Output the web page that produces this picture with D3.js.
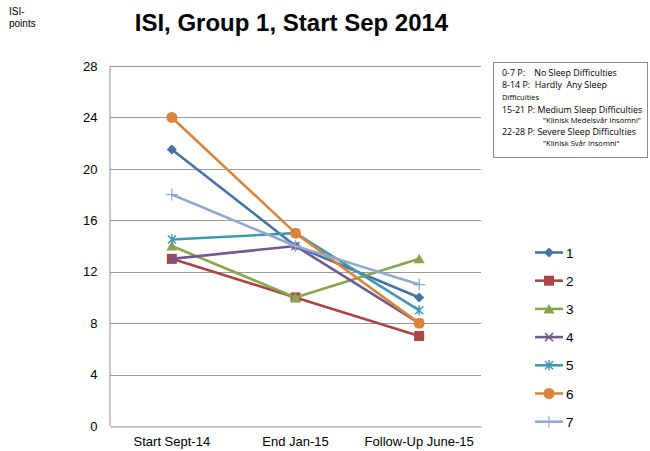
<!DOCTYPE html>
<html>
<head>
<meta charset="utf-8">
<script src="https://cdn.jsdelivr.net/npm/d3@7"></script>
<style>
  body { margin: 0; background: #fff; }
  text { font-family: Arial, "Liberation Sans", sans-serif; }
</style>
</head>
<body>
<script>
// categories and series
let categories = ['Start Sept-14', 'End Jan-15', 'Follow-Up June-15']
let seriesNames = ['1', '2', '3', '4', '5', '6', '7']
let s1 = [21.5, 14, 10]
let s2 = [13, 10, 7]
let s3 = [14, 10, 13]
let s4 = [13, 14, 8]
let s5 = [14.5, 15, 9]
let s6 = [24, 15, 8]
let s7 = [18, 14, 11]
let yTicks = [0, 4, 8, 12, 16, 20, 24, 28]
let noteLines = [
  { text: '0-7 P:    No Sleep Difficulties', small: false, indent: false },
  { text: '8-14 P:  Hardly  Any Sleep', small: false, indent: false },
  { text: 'Difficulties', small: true, indent: false },
  { text: '15-21 P: Medium Sleep Difficulties', small: false, indent: false },
  { text: '"Klinisk Medelsvår Insomni"', small: true, indent: true },
  { text: '22-28 P: Severe Sleep Difficulties', small: false, indent: false },
  { text: '"Klinisk Svår Insomni"', small: true, indent: true }
]

let allSeries = [s1, s2, s3, s4, s5, s6, s7]
let colors = ['#4572A7', '#AA4643', '#89A54E', '#71588F', '#4198AF', '#DB843D', '#93A9CF']
let shapes = ['diamond', 'square', 'triangle', 'x', 'star', 'circle', 'plus']

// measurements
let m = {
  width: 650,
  height: 451,
  left: 110,
  right: 481,
  top: 66,
  bottom: 426,
}

let svg = d3.select('body')
  .append('svg')
  .attr('width', m.width)
  .attr('height', m.height)

let xScale = d3.scaleBand()
  .domain(categories)
  .range([m.left, m.right])

let yScale = d3.scaleLinear()
  .domain([0, 28])
  .range([m.bottom, m.top])

// gridlines
svg.append('g')
  .selectAll('line')
  .data(yTicks.filter(function(d) { return d > 0 }))
  .enter()
  .append('line')
    .attr('x1', m.left)
    .attr('x2', m.right)
    .attr('y1', function(d) { return Math.round(yScale(d)) + 0.5 })
    .attr('y2', function(d) { return Math.round(yScale(d)) + 0.5 })
    .attr('stroke', '#9a9a9a')
    .attr('stroke-width', 1)

// axes
let yAxis = d3.axisLeft(yScale).tickValues(yTicks).tickSize(0).tickPadding(12)
let gy = svg.append('g')
  .attr('transform', 'translate(' + (m.left - 0.5) + ',0)')
  .call(yAxis)
gy.select('.domain').attr('stroke', '#8c8c8c')
gy.selectAll('text').attr('font-size', 13).attr('fill', '#000')

let xAxis = d3.axisBottom(xScale).tickSize(0).tickPadding(10)
let gx = svg.append('g')
  .attr('transform', 'translate(0,' + (m.bottom + 0.5) + ')')
  .call(xAxis)
gx.select('.domain').attr('stroke', '#8c8c8c')
gx.selectAll('text').attr('font-size', 13).attr('fill', '#000')

// title and y label
svg.append('text')
  .attr('x', 291.5)
  .attr('y', 31)
  .attr('text-anchor', 'middle')
  .attr('font-size', 24)
  .attr('font-weight', 'bold')
  .text('ISI, Group 1, Start Sep 2014')

svg.append('text')
  .attr('x', 9)
  .attr('y', 15)
  .attr('font-size', 10)
  .text('ISI-')
svg.append('text')
  .attr('x', 9)
  .attr('y', 27)
  .attr('font-size', 10)
  .text('points')

// marker drawing
function drawMarker(g, shape, color) {
  if (shape === 'diamond') {
    g.append('path').attr('d', 'M0,-5L5,0L0,5L-5,0Z').attr('fill', color)
  } else if (shape === 'square') {
    g.append('rect').attr('x', -5).attr('y', -5).attr('width', 10).attr('height', 10).attr('fill', color)
  } else if (shape === 'triangle') {
    g.append('path').attr('d', 'M0,-5L5.5,4.5L-5.5,4.5Z').attr('fill', color)
  } else if (shape === 'x') {
    g.append('path').attr('d', 'M-4,-4L4,4M-4,4L4,-4').attr('stroke', color).attr('stroke-width', 1.5)
  } else if (shape === 'star') {
    g.append('path').attr('d', 'M-4,-4L4,4M-4,4L4,-4M0,-5L0,5').attr('stroke', color).attr('stroke-width', 1.5)
  } else if (shape === 'circle') {
    g.append('circle').attr('r', 5.5).attr('fill', color)
  } else if (shape === 'plus') {
    g.append('path').attr('d', 'M0,-6L0,6M-6,0L6,0').attr('stroke', color).attr('stroke-width', 1.2)
  }
}

let line = d3.line()
  .x(function(d, i) { return xScale(categories[i]) + xScale.bandwidth() / 2 })
  .y(function(d) { return yScale(d) })

allSeries.forEach(function(values, k) {
  let g = svg.append('g')
  g.append('path')
    .datum(values)
    .attr('d', line)
    .attr('fill', 'none')
    .attr('stroke', colors[k])
    .attr('stroke-width', 2.6)
    .attr('stroke-linejoin', 'round')
  values.forEach(function(v, i) {
    let mg = g.append('g')
      .attr('transform', 'translate(' + (xScale(categories[i]) + xScale.bandwidth() / 2) + ',' + yScale(v) + ')')
    drawMarker(mg, shapes[k], colors[k])
  })
})

// legend
let legend = svg.append('g')
seriesNames.forEach(function(name, k) {
  let y = 252.5 + k * 28.2
  legend.append('line')
    .attr('x1', 535).attr('x2', 563)
    .attr('y1', y).attr('y2', y)
    .attr('stroke', colors[k])
    .attr('stroke-width', 2.6)
  let mg = legend.append('g').attr('transform', 'translate(549,' + y + ')')
  drawMarker(mg, shapes[k], colors[k])
  legend.append('text')
    .attr('x', 566)
    .attr('y', y + 5)
    .attr('font-size', 13.5)
    .text(name)
})

// note box
svg.append('rect')
  .attr('x', 493.5)
  .attr('y', 62.5)
  .attr('width', 154)
  .attr('height', 95)
  .attr('fill', '#fff')
  .attr('stroke', '#8c8c8c')

let noteY = [76, 88, 100, 113, 123, 135, 146]
noteLines.forEach(function(d, i) {
  svg.append('text')
    .attr('x', d.indent ? 543 : 502)
    .attr('y', noteY[i])
    .attr('font-size', d.small ? 7.6 : 8.9)
    .style('font-family', '"Open Sans", "Liberation Sans", sans-serif')
    .style('white-space', 'pre')
    .text(d.text)
})
</script>
</body>
</html>
